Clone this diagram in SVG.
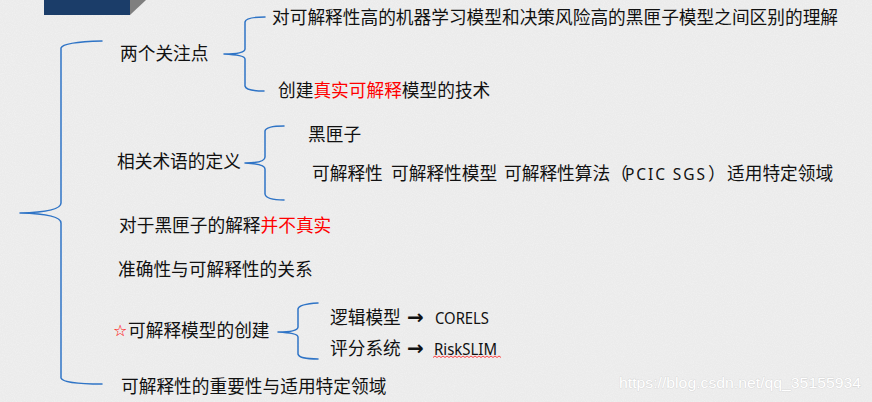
<svg xmlns="http://www.w3.org/2000/svg" width="872" height="402" viewBox="0 0 872 402">
<defs>
<filter id="tex" x="0" y="0" width="100%" height="100%">
<feTurbulence type="fractalNoise" baseFrequency="0.9" numOctaves="2" seed="3" result="n"/>
<feColorMatrix in="n" type="matrix" values="0 0 0 0 1  0 0 0 0 1  0 0 0 0 1  0 0 0 -1.4 0.9" />
</filter>
<style>
.bg{fill:#ebebeb}
.br{fill:none;stroke:#2f74c6;stroke-width:1.5;stroke-linecap:round;stroke-linejoin:round}
.t{font-family:"Noto Sans CJK SC","Microsoft YaHei",sans-serif;font-size:17.7px;fill:#111}
.lat{font-family:"Noto Sans","Liberation Sans",sans-serif;font-size:15.5px;fill:#111}
.red{fill:#ff0000}
.arr{font-family:"DejaVu Sans",sans-serif;font-weight:bold;font-size:20px;fill:#111}
.wm{font-family:"Liberation Sans",Arial,sans-serif;font-size:15px;fill:#ffffff;stroke:#cfcfcf;stroke-width:0.6;paint-order:stroke}
</style>
</defs>
<rect class="bg" x="0" y="0" width="872" height="402"/>
<rect x="0" y="0" width="872" height="402" filter="url(#tex)" opacity="0.35"/>
<rect x="44" y="0" width="86" height="15" fill="#1b3d69"/>
<polygon points="130,0 146,0 130,15" fill="#7f7f7f"/>

<g id="connectors">
<path class="br" d="M102,41 Q63,42 61,48 L61,203 Q61,212 20,213 Q61,214 61,223 L61,378 Q63,384 102,384"/>
<path class="br" d="M265,17 Q246,17 245,22 L245,49 Q245,54 224,54 Q245,55 245,59 L245,86 Q246,91 264,91"/>
<path class="br" d="M284,126 Q266,126 265,131 L265,157 Q265,163 245,163 Q265,164 265,169 L265,194 Q266,200 284,200"/>
<path class="br" d="M318,303 Q299,304 298,309 L298,327 Q298,332 278,332 Q298,333 298,337 L298,354 Q299,359 318,359"/>
</g>

<g id="n-focus"><text class="t" x="120" y="60">两个关注点</text></g>
<g id="n-focus-1"><text class="t" x="272" y="23.5">对可解释性高的机器学习模型和决策风险高的黑匣子模型之间区别的理解</text></g>
<g id="n-focus-2"><text class="t" x="278" y="97">创建<tspan class="red">真实可解释</tspan>模型的技术</text></g>

<g id="n-terms"><text class="t" x="117" y="168">相关术语的定义</text></g>
<g id="n-terms-1"><text class="t" x="308" y="141">黑匣子</text></g>
<g id="n-terms-2">
<text class="t" x="312" y="180">可解释性</text>
<text class="t" x="391" y="180">可解释性模型</text>
<text class="t" x="504" y="180">可解释性算法（</text>
<text class="lat" x="625" y="180" textLength="80" lengthAdjust="spacing">PCIC SGS</text>
<text class="t" x="708" y="180">）</text>
<text class="t" x="727" y="180">适用特定领域</text>
</g>

<g id="n-blackbox"><text class="t" x="119" y="232">对于黑匣子的解释<tspan class="red">并不真实</tspan></text></g>
<g id="n-accuracy"><text class="t" x="118" y="276">准确性与可解释性的关系</text></g>

<g id="n-create"><text x="113" y="336" font-family="'DejaVu Sans',sans-serif" font-size="16" fill="#ff0000">☆</text><text class="t" x="128" y="336.5">可解释模型的创建</text></g>
<g id="n-create-1">
<text class="t" x="330" y="323.5">逻辑模型</text>
<text class="arr" x="407" y="324">→</text>
<text class="lat" x="435" y="323.5" textLength="54" lengthAdjust="spacingAndGlyphs">CORELS</text>
</g>
<g id="n-create-2">
<text class="t" x="330" y="354.5">评分系统</text>
<text class="arr" x="407" y="355">→</text>
<text class="lat" x="434" y="354.5" textLength="63" lengthAdjust="spacingAndGlyphs">RiskSLIM</text>
<path d="M433,357.5 l2,-1.5 l2,1.5 l2,-1.5 l2,1.5 l2,-1.5 l2,1.5 l2,-1.5 l2,1.5 l2,-1.5 l2,1.5 l2,-1.5 l2,1.5 l2,-1.5 l2,1.5 l2,-1.5 l2,1.5 l2,-1.5 l2,1.5 l2,-1.5 l2,1.5 l2,-1.5 l2,1.5 l2,-1.5 l2,1.5 l2,-1.5 l2,1.5 l2,-1.5 l2,1.5 l2,-1.5 l2,1.5 l2,-1.5 l2,1.5 l2,-1.5 l2,1.5" fill="none" stroke="#ff3030" stroke-width="0.9"/>
</g>

<g id="n-importance"><text class="t" x="121" y="392.5">可解释性的重要性与适用特定领域</text></g>

<text class="wm" x="619" y="388" textLength="242" lengthAdjust="spacingAndGlyphs">https://blog.csdn.net/qq_35155934</text>
</svg>
